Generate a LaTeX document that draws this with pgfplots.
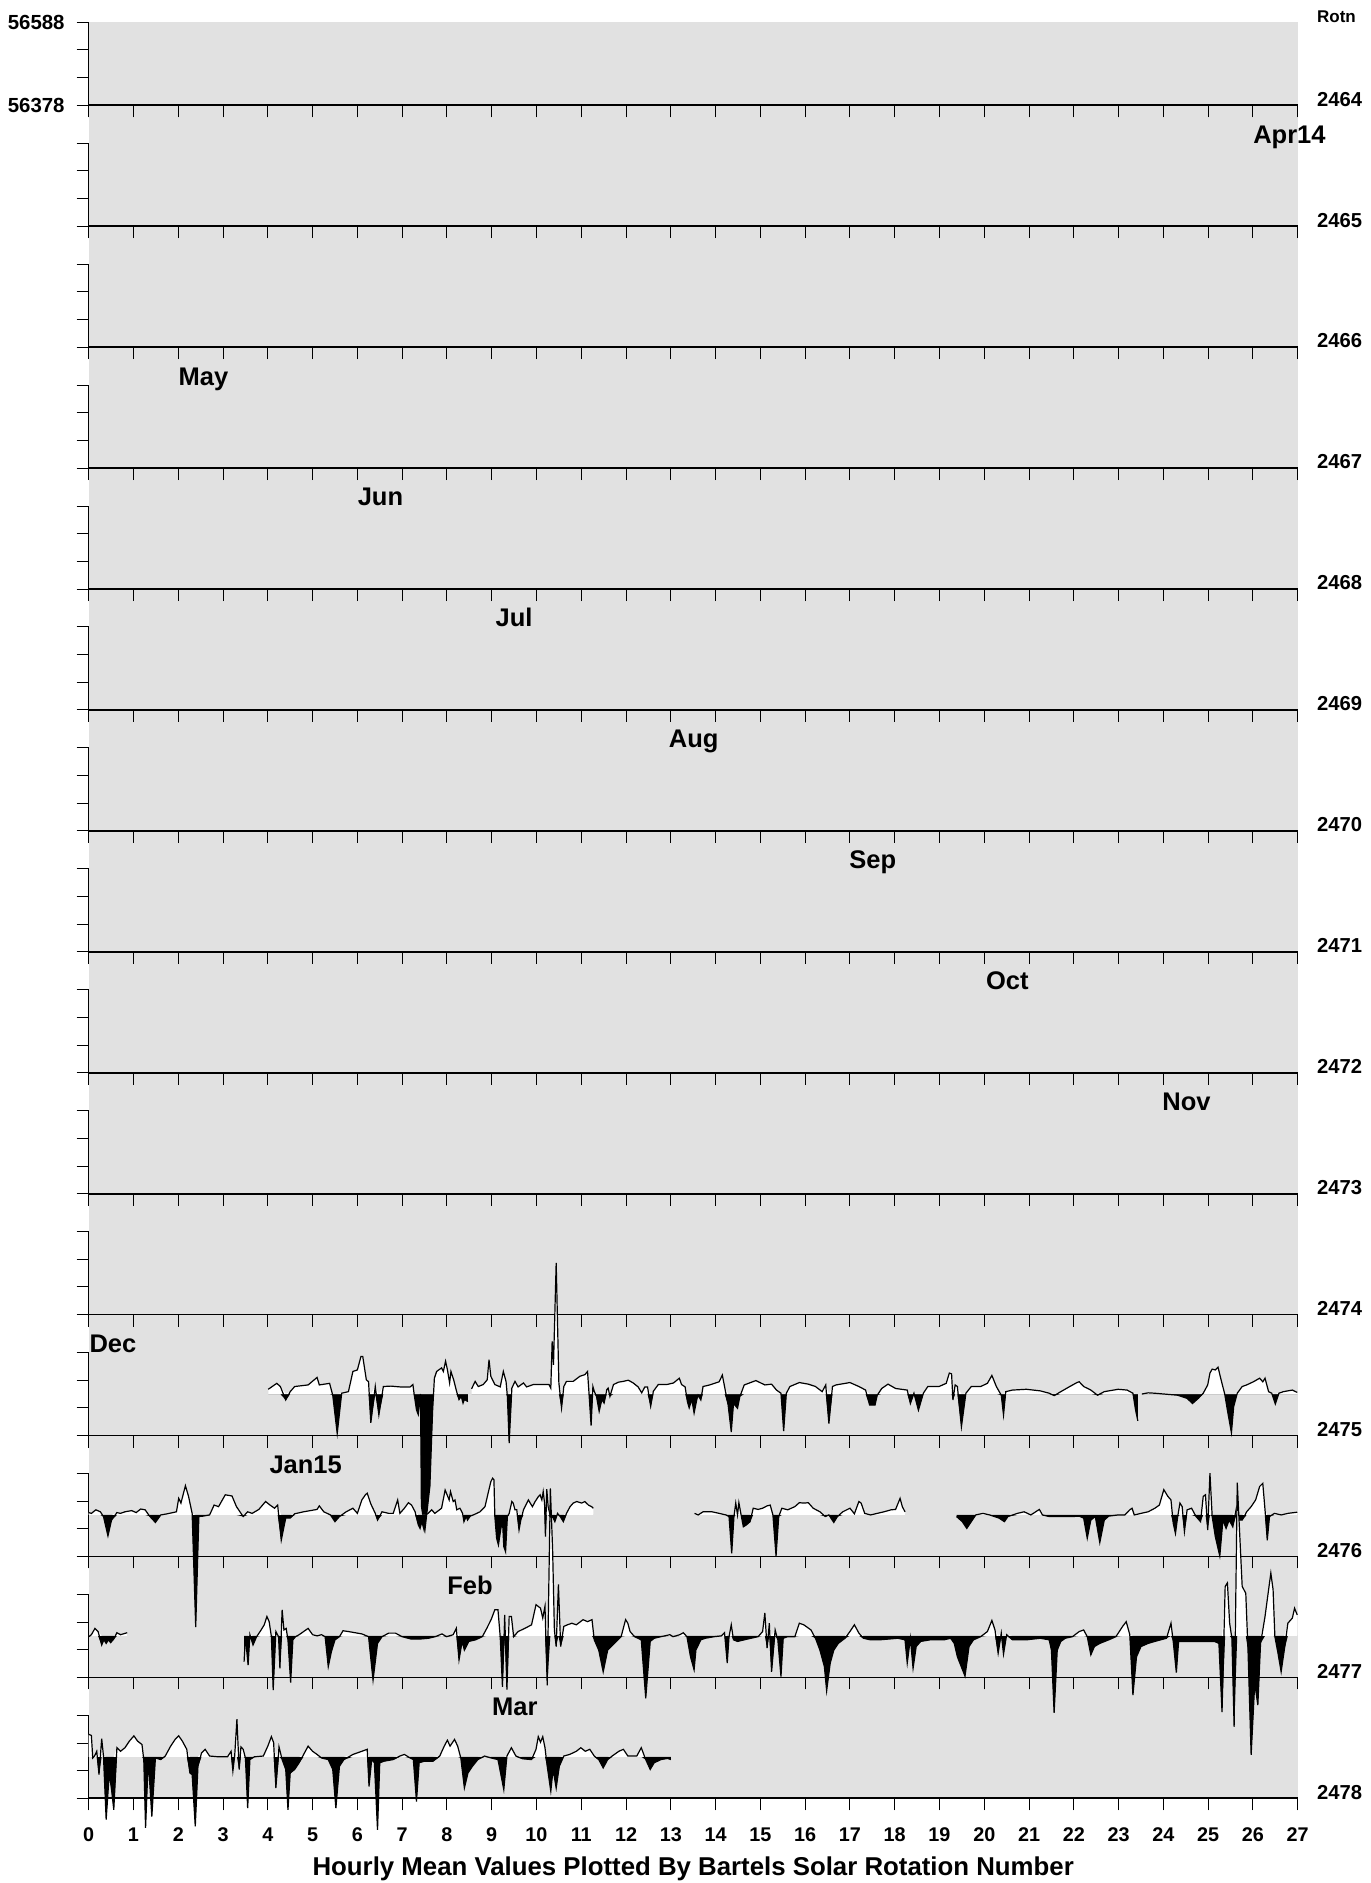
\documentclass[border=0pt]{standalone}
\usepackage{pgfplots}
\pgfplotsset{compat=1.18}
\usepackage{pgfplotstable}
\usepackage{fontspec}
\setmainfont{Liberation Sans}
\definecolor{bg}{RGB}{225,225,225}

\newcommand{\tlfont}{\fontsize{9.9}{10}\selectfont\bfseries}
\newcommand{\ylfont}{\fontsize{10.2}{11}\selectfont\bfseries}
\newcommand{\rlfont}{\fontsize{10.1}{11}\selectfont\bfseries}
\newcommand{\rotnfont}{\fontsize{8.5}{9}\selectfont\bfseries}
\newcommand{\mfont}{\fontsize{12.75}{13}\selectfont\bfseries}
\newcommand{\xlfont}{\fontsize{12.9}{13}\selectfont\bfseries}

% ---------------- Dec (rotation ending 2475) ----------------
\pgfplotstableread{
d B
4.01 56495
4.20 56510
4.28 56502
4.40 56468
4.50 56489
4.60 56502
4.90 56506
5.10 56525
5.15 56506
5.38 56510
5.45 56480
5.55 56383
5.65 56485
5.80 56489
5.90 56540
6.00 56544
6.08 56578
6.12 56578
6.20 56519
6.25 56514
6.30 56410
6.40 56502
6.48 56430
6.58 56502
6.75 56503
6.95 56501
7.18 56501
7.24 56507
7.27 56481
7.32 56443
7.36 56431
7.40 56469
7.41 56483
7.43 56200
7.51 56140
7.62 56250
7.68 56440
7.70 56481
7.72 56523
7.77 56540
7.83 56545
7.88 56549
7.92 56540
7.97 56566
8.01 56545
8.06 56511
8.09 56540
8.15 56519
8.21 56492
8.27 56469
8.32 56477
8.36 56460
8.39 56469
8.47 56464
}\decA
\pgfplotstableread{
d B
8.55 56496
8.63 56515
8.70 56502
8.81 56507
8.90 56519
8.94 56570
8.98 56528
9.07 56507
9.19 56501
9.26 56540
9.32 56515
9.35 56477
9.39 56359
9.45 56498
9.52 56515
9.59 56501
9.71 56511
9.78 56501
9.93 56507
10.08 56507
10.28 56507
10.32 56498
10.35 56616
10.38 56557
10.44 56815
10.50 56511
10.56 56448
10.61 56502
10.67 56515
10.82 56515
10.97 56528
11.08 56532
11.14 56540
11.17 56490
11.22 56403
11.26 56502
11.29 56490
11.34 56477
11.40 56439
11.46 56469
11.51 56460
11.57 56494
11.60 56498
11.64 56477
11.72 56507
11.83 56513
11.94 56515
12.05 56518
12.16 56511
12.27 56501
12.35 56486
12.42 56501
12.48 56501
12.55 56452
12.61 56490
12.72 56507
12.91 56507
13.06 56511
13.19 56523
13.24 56507
13.32 56501
13.37 56464
13.41 56448
13.47 56469
13.52 56435
13.58 56469
13.61 56480
13.67 56468
13.72 56502
13.87 56506
14.08 56514
14.15 56531
14.20 56502
14.28 56455
14.35 56387
14.40 56459
14.49 56447
14.54 56476
14.64 56506
14.90 56517
15.10 56506
15.25 56508
15.36 56493
15.46 56485
15.52 56389
15.58 56485
15.66 56502
15.87 56512
16.07 56508
16.23 56502
16.38 56489
16.46 56506
16.53 56408
16.61 56502
16.69 56506
17.00 56512
17.20 56502
17.35 56493
17.44 56455
17.56 56455
17.61 56480
17.71 56497
17.85 56508
18.02 56497
18.28 56493
18.35 56459
18.43 56485
18.53 56442
18.64 56485
18.74 56502
18.99 56502
19.15 56510
19.22 56536
19.27 56534
19.30 56468
19.35 56506
19.40 56502
19.49 56400
19.59 56485
19.71 56502
19.92 56502
20.07 56510
20.17 56530
20.27 56502
20.38 56480
20.43 56430
20.48 56489
20.63 56493
20.94 56495
21.25 56491
21.45 56485
21.56 56479
21.71 56489
21.91 56502
22.07 56512
22.12 56514
22.22 56502
22.38 56493
22.53 56480
22.68 56489
22.99 56495
23.19 56493
23.32 56485
23.38 56442
23.43 56415
}\decB
\pgfplotstableread{
d B
23.52 56483
23.66 56486
23.81 56485
24.01 56483
24.32 56480
24.53 56472
24.65 56459
24.78 56472
24.89 56485
24.99 56506
25.04 56536
25.09 56546
25.16 56544
25.22 56551
25.30 56514
25.37 56483
25.43 56442
25.52 56385
25.57 56451
25.65 56485
25.76 56502
25.86 56506
26.01 56514
26.15 56523
26.22 56514
26.27 56523
26.35 56489
26.42 56485
26.50 56458
26.58 56485
26.68 56489
26.88 56493
26.99 56487
}\decC

% ---------------- Jan15 (2476) ----------------
\pgfplotstableread{
d B
0.00 56489
0.06 56487
0.16 56496
0.26 56491
0.33 56479
0.43 56430
0.51 56470
0.63 56489
0.71 56487
0.81 56491
0.96 56494
1.06 56489
1.16 56498
1.26 56496
1.36 56480
1.49 56464
1.61 56483
1.76 56486
1.96 56491
2.01 56525
2.06 56513
2.16 56557
2.23 56530
2.31 56487
2.39 56199
2.46 56479
2.55 56480
2.70 56483
2.80 56508
2.90 56504
3.05 56534
3.20 56531
3.30 56504
3.45 56479
3.55 56491
3.65 56487
3.80 56497
3.95 56517
4.05 56508
4.15 56500
4.22 56508
4.30 56419
4.40 56475
4.50 56475
4.60 56486
4.80 56491
5.10 56497
5.15 56506
5.25 56491
5.40 56483
5.50 56466
5.60 56479
5.75 56491
5.90 56500
6.00 56487
6.10 56521
6.18 56534
6.22 56538
6.30 56511
6.40 56487
6.45 56470
6.55 56491
6.70 56487
6.80 56487
6.90 56521
6.95 56487
7.05 56500
7.14 56514
7.21 56508
7.29 56491
7.36 56458
7.40 56449
7.44 56466
7.49 56445
7.53 56483
7.58 56487
7.66 56496
7.73 56487
7.88 56500
7.96 56546
7.99 56538
8.05 56521
8.08 56542
8.14 56517
8.18 56521
8.22 56496
8.29 56500
8.35 56487
8.38 56466
8.43 56479
8.46 56470
8.52 56480
8.59 56483
8.74 56491
8.85 56504
8.92 56538
8.98 56567
9.02 56576
9.05 56572
9.07 56479
9.11 56424
9.15 56407
9.20 56445
9.24 56470
9.27 56403
9.31 56390
9.35 56479
9.39 56487
9.45 56517
9.48 56513
9.52 56496
9.56 56496
9.61 56445
9.65 56470
9.71 56496
9.82 56521
9.86 56513
9.91 56504
9.97 56517
10.04 56529
10.08 56534
10.12 56521
10.15 56542
10.18 56513
10.20 56428
10.23 56548
10.26 56504
10.32 56475
10.36 56479
10.41 56466
10.47 56487
10.53 56479
10.60 56466
10.67 56487
10.75 56504
10.82 56513
10.90 56517
11.01 56513
11.08 56517
11.16 56508
11.23 56504
11.27 56500
}\janA
\pgfplotstableread{
d B
13.53 56487
13.61 56483
13.72 56491
13.92 56491
14.08 56487
14.23 56483
14.30 56479
14.36 56386
14.41 56479
14.45 56513
14.49 56483
14.52 56514
14.57 56483
14.62 56453
14.69 56458
14.77 56466
14.84 56500
14.95 56497
15.05 56500
15.15 56506
15.22 56508
15.28 56483
15.35 56379
15.41 56479
15.48 56500
15.61 56496
15.77 56504
15.87 56514
15.97 56513
16.07 56514
16.18 56500
16.33 56491
16.45 56479
16.53 56483
16.64 56464
16.72 56479
16.84 56491
17.00 56500
17.10 56486
17.20 56517
17.25 56513
17.33 56487
17.46 56483
17.61 56487
17.76 56491
17.92 56496
18.02 56497
18.12 56525
18.17 56504
18.23 56491
}\janB
\pgfplotstableread{
d B
19.38 56479
19.51 56466
19.61 56449
19.71 56466
19.81 56483
19.97 56487
20.12 56483
20.33 56475
20.45 56466
20.53 56479
20.74 56487
20.89 56491
21.04 56483
21.23 56497
21.30 56483
21.45 56479
21.76 56479
21.97 56479
22.12 56480
22.22 56475
22.30 56424
22.38 56470
22.48 56479
22.58 56413
22.68 56470
22.78 56480
22.99 56483
23.14 56483
23.25 56496
23.30 56500
23.35 56483
23.50 56487
23.66 56491
23.81 56500
23.91 56508
24.01 56547
24.10 56530
24.17 56521
24.22 56462
24.27 56436
24.32 56479
24.37 56513
24.42 56504
24.47 56441
24.53 56496
24.63 56500
24.73 56479
24.83 56466
24.89 56530
24.94 56534
24.99 56445
25.04 56589
25.09 56479
25.16 56428
25.26 56379
25.33 56470
25.40 56449
25.47 56470
25.55 56453
25.63 56500
25.68 56470
25.76 56470
25.86 56491
25.96 56504
26.06 56521
26.15 56555
26.22 56563
26.27 56496
26.32 56419
26.37 56479
26.48 56487
26.63 56483
26.78 56487
26.99 56490
}\janC

% ---------------- Feb (2477) ----------------
\pgfplotstableread{
d B
0.00 56481
0.06 56486
0.14 56502
0.21 56494
0.29 56460
0.34 56473
0.39 56464
0.44 56473
0.49 56466
0.56 56475
0.63 56491
0.71 56486
0.86 56491
}\febA
\pgfplotstableread{
d B
3.47 56418
3.50 56481
3.56 56409
3.60 56486
3.67 56460
3.75 56481
3.85 56498
3.92 56511
3.98 56532
4.03 56519
4.08 56481
4.12 56346
4.18 56494
4.24 56481
4.27 56401
4.32 56549
4.36 56498
4.41 56502
4.45 56473
4.51 56365
4.56 56473
4.62 56481
4.70 56486
4.80 56494
4.90 56502
5.00 56486
5.10 56483
5.20 56486
5.28 56481
5.35 56405
5.42 56443
5.50 56473
5.60 56481
5.68 56496
5.80 56494
5.95 56491
6.10 56488
6.25 56481
6.35 56371
6.45 56464
6.55 56481
6.70 56490
6.85 56490
7.00 56481
7.20 56475
7.40 56475
7.59 56477
7.74 56481
7.89 56488
7.99 56481
8.14 56486
8.21 56502
8.27 56422
8.34 56469
8.39 56447
8.49 56469
8.64 56473
8.79 56481
8.89 56502
8.99 56525
9.07 56549
9.14 56549
9.19 56481
9.24 56354
9.29 56536
9.34 56347
9.39 56532
9.44 56532
9.49 56481
9.59 56494
9.74 56502
9.89 56511
9.99 56562
10.09 56553
10.14 56528
10.19 56558
10.24 56358
10.31 56856
10.36 56702
10.40 56498
10.44 56456
10.49 56613
10.54 56456
10.61 56507
10.69 56511
10.79 56515
10.89 56511
11.04 56524
11.14 56519
11.24 56524
11.29 56473
11.39 56447
11.49 56392
11.59 56447
11.74 56464
11.89 56481
11.99 56524
12.04 56515
12.09 56494
12.19 56481
12.34 56473
12.44 56325
12.54 56469
12.63 56477
12.78 56481
12.98 56486
13.05 56481
13.20 56486
13.28 56491
13.36 56481
13.44 56430
13.52 56397
13.56 56447
13.67 56473
13.77 56477
13.97 56481
14.13 56483
14.20 56491
14.26 56414
14.30 56481
14.35 56511
14.40 56473
14.49 56469
14.64 56473
14.79 56477
14.95 56481
15.05 56494
15.10 56541
15.15 56452
15.20 56515
15.25 56392
15.33 56498
15.39 56473
15.46 56380
15.51 56477
15.61 56481
15.77 56481
15.87 56515
15.97 56511
16.13 56498
16.23 56477
16.33 56447
16.43 56405
16.48 56344
16.56 56414
16.64 56447
16.74 56464
16.89 56477
17.00 56494
17.10 56511
17.20 56490
17.30 56477
17.46 56473
17.66 56473
17.87 56475
18.07 56477
18.23 56473
18.28 56414
18.35 56477
18.41 56401
18.48 56456
18.58 56469
18.79 56473
19.10 56473
19.25 56477
19.33 56464
19.40 56430
19.57 56381
19.66 56456
19.76 56473
19.92 56481
20.07 56494
20.17 56522
20.24 56498
20.31 56439
20.38 56490
20.43 56437
20.50 56486
20.63 56473
20.94 56473
21.25 56477
21.45 56473
21.50 56447
21.56 56288
21.63 56447
21.71 56469
21.81 56477
21.97 56481
22.12 56494
22.22 56498
22.30 56481
22.38 56435
22.46 56456
22.58 56464
22.78 56473
22.94 56481
23.09 56507
23.17 56519
23.25 56486
23.32 56333
23.40 56430
23.50 56456
23.66 56464
23.81 56469
24.07 56477
24.17 56515
24.22 56469
24.29 56390
24.34 56469
24.53 56469
24.83 56469
25.14 56469
25.24 56464
25.31 56290
25.38 56608
25.43 56617
25.48 56515
25.53 56477
25.58 56253
25.65 56871
25.76 56608
25.84 56591
25.89 56447
25.96 56182
26.04 56363
26.11 56308
26.17 56464
26.27 56532
26.35 56600
26.40 56642
26.45 56600
26.49 56481
26.56 56439
26.63 56392
26.70 56447
26.78 56515
26.88 56528
26.93 56553
26.99 56536
}\febB

% ---------------- Mar (2478) ----------------
\pgfplotstableread{
d B
0.00 56540
0.06 56537
0.09 56480
0.13 56485
0.18 56497
0.23 56438
0.29 56529
0.33 56485
0.39 56324
0.46 56442
0.51 56400
0.56 56349
0.63 56506
0.71 56497
0.81 56506
0.91 56523
1.01 56536
1.09 56523
1.19 56514
1.23 56476
1.27 56303
1.33 56476
1.41 56332
1.49 56480
1.61 56476
1.71 56485
1.83 56510
1.93 56527
2.01 56536
2.09 56523
2.19 56502
2.26 56442
2.31 56438
2.38 56307
2.44 56459
2.52 56493
2.60 56502
2.70 56485
2.90 56483
3.10 56483
3.18 56497
3.22 56447
3.26 56485
3.31 56578
3.36 56451
3.40 56508
3.45 56502
3.50 56480
3.55 56353
3.60 56476
3.70 56483
3.90 56485
4.00 56510
4.08 56534
4.13 56519
4.18 56404
4.25 56508
4.32 56476
4.40 56451
4.45 56349
4.50 56442
4.60 56451
4.70 56468
4.80 56489
4.90 56510
5.00 56497
5.10 56489
5.20 56480
5.35 56476
5.45 56451
5.52 56353
5.60 56459
5.70 56476
5.90 56489
6.10 56497
6.22 56502
6.26 56408
6.32 56476
6.38 56468
6.45 56298
6.50 56468
6.60 56472
6.80 56476
6.95 56485
7.05 56489
7.18 56480
7.25 56476
7.32 56370
7.38 56468
7.50 56472
7.69 56472
7.84 56485
7.94 56510
8.01 56525
8.07 56510
8.17 56527
8.24 56510
8.31 56480
8.39 56404
8.47 56442
8.57 56459
8.69 56476
8.84 56485
8.99 56480
9.14 56476
9.27 56400
9.34 56485
9.44 56506
9.54 56485
9.69 56478
9.89 56476
9.99 56502
10.04 56534
10.09 56520
10.14 56534
10.19 56506
10.24 56459
10.32 56396
10.37 56451
10.44 56404
10.51 56459
10.61 56485
10.74 56489
10.89 56497
10.99 56506
11.09 56497
11.19 56502
11.29 56485
11.39 56476
11.49 56455
11.59 56476
11.69 56485
11.84 56497
11.94 56502
12.04 56485
12.24 56485
12.34 56506
12.44 56476
12.54 56451
12.63 56468
12.78 56476
12.93 56479
13.00 56476
}\marA

\pgfplotsset{
  panel/.style={
    anchor=south west,
    width=604.5pt, height=41.5pt, scale only axis,
    xmin=0, xmax=27, ymin=-105, ymax=105,
    clip=false,
    axis x line*=bottom, axis y line*=left,
    x axis line style={line width=0.85pt},
    y axis line style={line width=0.7pt},
    xtick={0,...,27}, ytick={-105,-35,35,105},
    tick align=outside, major tick length=6pt,
    tick style={line width=0.45pt, black},
    xticklabels={}, yticklabels={},
  },
  panelat/.style={at={(44.35pt,#1)}},
}

\newcommand{\seg}[1]{%
  \addplot[fill=black, draw=none] table[x=d, y expr={min(\thisrow{B}-56483,0)}] {#1} \closedcycle;
  \addplot[fill=white, draw=none] table[x=d, y expr={max(\thisrow{B}-56483,0)}] {#1} \closedcycle;
  \addplot[black, line width=0.6pt] table[x=d, y expr={\thisrow{B}-56483}] {#1};
}
\newcommand{\rot}[1]{\node[anchor=base west, inner sep=0, font=\rlfont, xshift=9.5pt, yshift=-0.4pt] at (rel axis cs:1,0) {#1};}
\newcommand{\mon}[2]{\node[anchor=base west, inner sep=0, font=\mfont] at (axis cs:#1,105) {#2};}

\begin{document}
\begin{tikzpicture}
\path[use as bounding box] (0,0) rectangle (685pt,941.5pt);
\fill[bg] (44.35pt,42.34pt) rectangle (648.85pt,930.35pt);

\begin{axis}[panel, panelat=888.85pt]
  \rot{2464}
  \node[anchor=base west, inner sep=0, font=\rotnfont, xshift=9.5pt] at (rel axis cs:1,1) {Rotn};
  \node[anchor=east, inner sep=0, font=\ylfont, xshift=-11.85pt] at (axis cs:0,105) {56588};
  \node[anchor=east, inner sep=0, font=\ylfont, xshift=-11.85pt] at (axis cs:0,-105) {56378};
\end{axis}
\begin{axis}[panel, panelat=828.385pt]
  \rot{2465}\mon{26}{Apr14}
\end{axis}
\begin{axis}[panel, panelat=767.92pt]
  \rot{2466}
\end{axis}
\begin{axis}[panel, panelat=707.455pt]
  \rot{2467}\mon{2}{May}
\end{axis}
\begin{axis}[panel, panelat=646.99pt]
  \rot{2468}\mon{6}{Jun}
\end{axis}
\begin{axis}[panel, panelat=586.525pt]
  \rot{2469}\mon{9.08}{Jul}
\end{axis}
\begin{axis}[panel, panelat=526.06pt]
  \rot{2470}\mon{12.95}{Aug}
\end{axis}
\begin{axis}[panel, panelat=465.595pt]
  \rot{2471}\mon{16.98}{Sep}
\end{axis}
\begin{axis}[panel, panelat=405.13pt]
  \rot{2472}\mon{20.03}{Oct}
\end{axis}
\begin{axis}[panel, panelat=344.665pt]
  \rot{2473}\mon{23.97}{Nov}
\end{axis}
\begin{axis}[panel, panelat=284.2pt]
  \rot{2474}
\end{axis}
\begin{axis}[panel, panelat=223.735pt]
  \seg{\decA}\seg{\decB}\seg{\decC}
  \rot{2475}\mon{0.01}{Dec}
\end{axis}
\begin{axis}[panel, panelat=163.27pt]
  \seg{\janA}\seg{\janB}\seg{\janC}
  \rot{2476}\mon{4.03}{Jan15}
\end{axis}
\begin{axis}[panel, panelat=102.805pt]
  \seg{\febA}\seg{\febB}
  \rot{2477}\mon{8}{Feb}
\end{axis}
\begin{axis}[panel, panelat=42.34pt]
  \seg{\marA}
  \rot{2478}\mon{9}{Mar}
  \pgfplotsinvokeforeach{0,...,27}{\node[anchor=base, inner sep=0, font=\tlfont, yshift=-21.35pt] at (axis cs:#1,-105) {#1};}
  \node[anchor=base, inner sep=0, font=\xlfont, yshift=-38.35pt] at (axis cs:13.5,-105) {Hourly Mean Values Plotted By Bartels Solar Rotation Number};
\end{axis}
\end{tikzpicture}
\end{document}
